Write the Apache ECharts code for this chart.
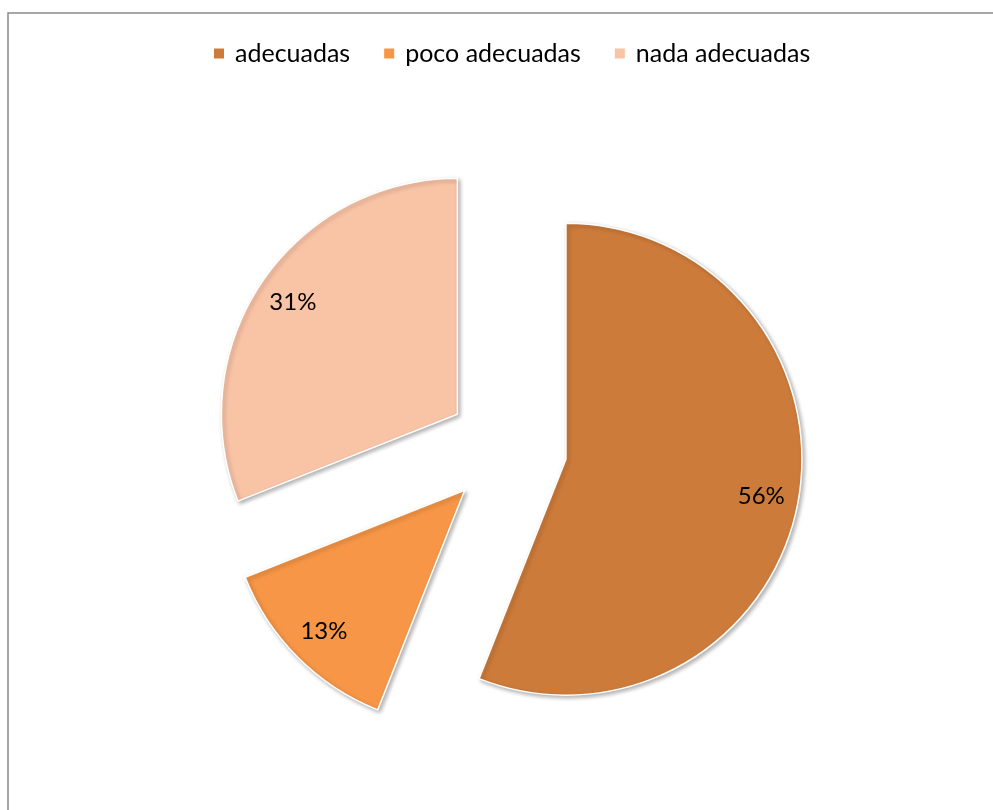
<!DOCTYPE html>
<html>
<head>
<meta charset="utf-8">
<script src="https://cdn.jsdelivr.net/npm/echarts@6/dist/echarts.min.js"></script>
<style>
  html, body { margin: 0; padding: 0; background: #fff; }
  #chart { width: 993px; height: 810px; }
</style>
</head>
<body>
<div id="chart"></div>
<script>
// Categories and their shares (percent)
const categories = ['adecuadas', 'poco adecuadas', 'nada adecuadas'];
const shares = [56, 13, 31];
const colors = ['#CD7B3A', '#F79646', '#F9C3A6'];

const FONT = 'Lato, "Open Sans", sans-serif';
const center = [507, 448];
const R = 236;
const EXPLODE = 60;

const chart = echarts.init(document.getElementById('chart'), null, { renderer: 'canvas' });

const sliceData = categories.map((name, i) => ({
  name: name,
  value: shares[i],
  selected: true,
  itemStyle: { color: colors[i] }
}));

// Transparent ring used only to place the percentage labels further out
const labelData = categories.map((name, i) => ({
  name: name,
  value: shares[i],
  selected: true
}));

chart.setOption({
  animation: false,
  legend: {
    data: categories,
    left: 212,
    top: 41,
    padding: 0,
    itemWidth: 12,
    itemHeight: 12,
    itemGap: 32,
    icon: 'rect',
    selectedMode: false,
    textStyle: { fontFamily: FONT, fontSize: 25, color: '#000', padding: [0, 0, 0, 5] }
  },
  graphic: [{
    type: 'rect',
    shape: { x: 8, y: 13, width: 1100, height: 1100 },
    style: { fill: 'none', stroke: '#8a8a8a', lineWidth: 1.5 },
    silent: true,
    z: 0
  }],
  series: [{
    type: 'pie',
    center: center,
    radius: [0, R],
    startAngle: 90,
    clockwise: true,
    selectedMode: 'multiple',
    selectedOffset: EXPLODE,
    avoidLabelOverlap: false,
    label: { show: false },
    labelLine: { show: false },
    emphasis: { disabled: true },
    itemStyle: {
      borderColor: '#fff',
      borderWidth: 1.5,
      shadowBlur: 4,
      shadowOffsetX: 2,
      shadowOffsetY: 2,
      shadowColor: 'rgba(0,0,0,0.3)'
    },
    data: sliceData
  }, {
    type: 'pie',
    center: center,
    radius: [R * 0.66, R],
    startAngle: 90,
    clockwise: true,
    selectedMode: 'multiple',
    selectedOffset: EXPLODE,
    avoidLabelOverlap: false,
    silent: true,
    legendHoverLink: false,
    itemStyle: { color: 'rgba(0,0,0,0)' },
    emphasis: { disabled: true },
    label: {
      show: true,
      position: 'inside',
      formatter: '{c}%',
      fontFamily: FONT,
      fontSize: 24,
      color: '#000',
      padding: [6, 0, 0, 0]
    },
    labelLine: { show: false },
    data: labelData
  }]
});
</script>
</body>
</html>
